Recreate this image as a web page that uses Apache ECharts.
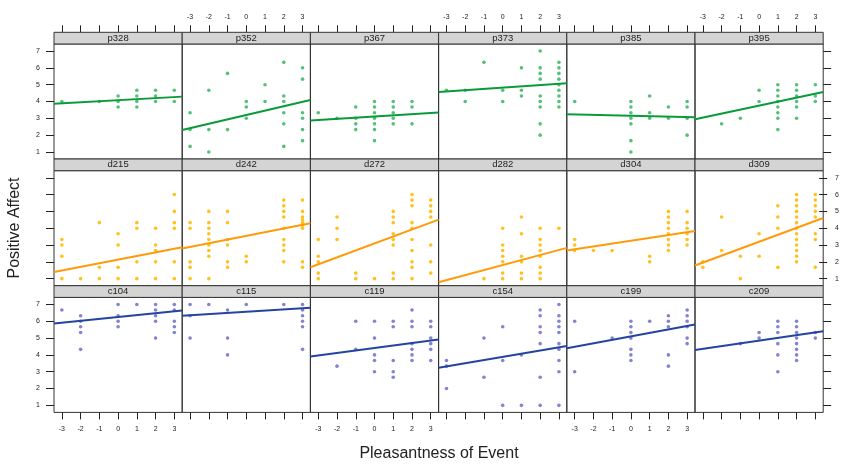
<!DOCTYPE html>
<html><head><meta charset="utf-8">
<script src="https://cdn.jsdelivr.net/npm/echarts@6/dist/echarts.min.js"></script>
<style>html,body{margin:0;padding:0;background:#fff}#c{width:842px;height:464px}</style>
</head><body><div id="c"></div><script>
// x categories of each column of points: -3..3
const xValues = [-3, -2, -1, 0, 1, 2, 3];
const yTickValues = [1, 2, 3, 4, 5, 6, 7];
const panelNames = ['p328','p352','p367','p373','p385','p395',
                    'd215','d242','d272','d282','d304','d309',
                    'c104','c115','c119','c154','c199','c209'];
// each panel: list per x value (-3..3) of Positive Affect values
const p328 = [[4],[],[4],[4.33,4,3.67],[4.67,4.33,4,3.67],[4.67,4.33,4],[4.67,4]];
const p352 = [[3.33,2.33,1.33],[4.67,2.33,1],[5.67,2.33],[4,3.67,3],[5,4],[6.33,4.33,4,3.33,2.67,1.33],[6,5.33,3.33,3,2.33,1.67]];
const p367 = [[3.33],[3],[3.67,3,2.67,2.33],[4,3.67,3.33,3,2.67,2.33,1.67],[4,3.67,3.33,3,2.67],[4,3.67,2.67],[]];
const p373 = [[4.67],[4.67,4],[6.33],[4.67,4],[6,4.67,4.33],[7,6,5.67,5.33,4.33,4,3.67,2.67,2],[6.33,6,5.67,5.33,5,4.67,4.33,4,3.67]];
const p385 = [[4],[],[],[4,3.67,3.33,3,2.67,1.67,1],[4.33,3.33,3],[3.67,3],[4,3.67,3,2]];
const p395 = [[],[2.67],[3],[4.67,4],[5,4.67,4.33,4,3.67,3.33,3,2.33],[5,4.67,4.33,4,3.67,3],[5,4.33,4]];
const d215 = [[3.33,3,2.33,1],[1],[4.33,1.67,1],[3.67,3,1.67,1],[4.33,4,2,1],[4,3,2.67,2,1],[6,5,4.33,4,2,1]];
const d242 = [[4.33,4,2,1.67,1],[5,4.33,4,3.67,3.33,3,2.67,2.33,1],[5,4.33,3.33,3,2,1.67],[2.33,2],[],[5.67,5.33,5,4.67,4,3.33,3,2.67,2],[5.67,5,4.67,4.5,4.33,4.17,4,2,1.67]];
const d272 = [[3.33,2.33,2,1.33,1],[4.67,4,3.33],[1.33,1],[1],[5,4.67,4.33,3.67,3.33,3,1.33,1],[6,5.67,5.33,4.33,4,3.33,2.67,2,1.67,1],[5.67,5.33,5,4.67,3,2,1.33]];
const d282 = [[],[],[1],[4,3,2.67,2.33,2,1.33,1],[4.67,3.67,2.33,2,1.33,1],[4,3.33,3,2.67,2.33,1.67,1.33,1],[4]];
const d304 = [[3.33,3,2.67],[2.67],[2.67],[],[2.33,2],[5,4.67,4.33,4,3.67,3.33,3,2.67],[5,4.33,4,3.67,3.33,3]];
const d309 = [[2,1.67],[4.67,2.67],[2.33,1],[3.67,2.33],[5.33,4.67,4,1.67],[6,5.67,5.33,5,4.67,4.33,4,3.67,3.33,3,2.67,2.33,2],[6,5.67,5.33,5,4.67,3.67,3.33,1.67]];
const c104 = [[6.67],[6.33,6,5.67,5.33,4.33],[],[7,6.33,6,5.67],[7],[7,6.67,6.33,6,5],[7,6.67,6,5.67,5.33]];
const c115 = [[7,6.33,5],[7],[6.67,5,4],[7],[],[7],[7,6.67,6.33,6,5.67,4.33]];
const c119 = [[],[3.33],[6,4.33],[6,5,4,3.67,3],[6,5.67,3.67,3,2.67],[6.67,6,5.67,4.67,4.33,4,3.67],[6,5.67,5,4.67,4.33,3.67]];
const c154 = [[3.67,3.33,2],[],[5,2.67],[5.67,3.67,1],[4,1],[6.67,6.33,5.67,5.33,4.67,2.67,1],[7,6.33,6,5.67,5.33,4.67,4.33,3.67,3,1]];
const c199 = [[6,3],[],[5],[6,5.67,5.33,5,4.33,4,3.67],[6],[6.33,6,5.67,4,3.33],[6.67,6.33,6,5.67,5,4.67]];
const c209 = [[],[],[4.67],[5.33,5],[6,5.67,5.33,4.67,4,3],[6,5.67,5.33,5,4.67,4.33,4,3.67],[5.33,5]];
const panelData = [p328,p352,p367,p373,p385,p395,d215,d242,d272,d282,d304,d309,c104,c115,c119,c154,c199,c209];
// regression line values at the left and right panel edges
const lineLeft  = [3.86,2.30,2.87,4.56,3.24,2.95, 1.40,2.79,1.68,0.78,2.67,1.78, 5.87,6.33,3.90,3.23,4.39,4.29];
const lineRight = [4.29,4.09,3.34,5.09,3.07,4.56, 2.87,4.29,4.51,2.83,3.83,4.61, 6.64,6.80,4.91,4.53,5.81,5.40];

const pointColors = ['#55c07a','#ffc11e','#8383d0'];
const lineColors = ['#0b9a3a','#ff9a0a','#2444a0'];

const LEFT0 = 54, PW = 128.2, PH = 115, SH = 11.7, ROWTOP = [44, 170.7, 297.4];
const XMIN = -3.42, XMAX = 3.42, YMIN = 0.58, YMAX = 7.42;
const FONT = '"Liberation Sans", Arial, sans-serif';

const grid = [], xAxis = [], yAxis = [], series = [], graphic = [];
for (let i = 0; i < 18; i++) {
  const r = Math.floor(i / 6), c = i % 6;
  const left = LEFT0 + c * PW, top = ROWTOP[r];
  grid.push({left: left, top: top, width: PW, height: PH, show: true, borderColor: '#333', borderWidth: 1, backgroundColor: 'transparent'});
  xAxis.push({
    gridIndex: i, type: 'value', min: XMIN, max: XMAX,
    position: r === 0 ? 'top' : 'bottom', offset: r === 0 ? SH : 0,
    axisLine: {show: false}, splitLine: {show: false},
    axisTick: {show: r !== 1, customValues: xValues, length: 7, inside: false, lineStyle: {color: '#222', width: 1}},
    axisLabel: {show: (r === 0 && c % 2 === 1) || (r === 2 && c % 2 === 0), customValues: xValues,
      fontSize: 7, margin: r === 0 ? 12 : 13, color: '#222', fontFamily: FONT}
  });
  yAxis.push({
    gridIndex: i, type: 'value', min: YMIN, max: YMAX,
    axisLine: {show: false}, splitLine: {show: false}, axisTick: {show: false}, axisLabel: {show: false}
  });
  const pts = [];
  panelData[i].forEach((ys, k) => ys.forEach(y => pts.push([xValues[k], y])));
  series.push({type: 'scatter', xAxisIndex: i, yAxisIndex: i, data: pts, symbolSize: 3.6,
    itemStyle: {color: pointColors[r], opacity: 1}, z: 2, silent: true});
  series.push({type: 'line', xAxisIndex: i, yAxisIndex: i, data: [[XMIN, lineLeft[i]], [XMAX, lineRight[i]]],
    showSymbol: false, symbol: 'none', lineStyle: {color: lineColors[r], width: 2}, z: 3, silent: true});
  graphic.push({type: 'rect', shape: {x: left, y: top - SH, width: PW, height: SH},
    style: {fill: '#d4d4d4', stroke: '#333', lineWidth: 1}, z: 10});
  graphic.push({type: 'text', x: left + PW / 2, y: top - SH / 2,
    style: {text: panelNames[i], fontSize: 9.5, fontFamily: FONT, fill: '#222', align: 'center', verticalAlign: 'middle'}, z: 11});
}
// outer y tick axes: one grid per row spanning the values 1..7 exactly
for (let r = 0; r < 3; r++) {
  const gi = grid.length;
  grid.push({left: LEFT0, width: 6 * PW, top: ROWTOP[r] + PH * (YMAX - 7) / (YMAX - YMIN),
    height: PH * 6 / (YMAX - YMIN), show: false});
  xAxis.push({gridIndex: gi, type: 'value', min: 0, max: 1, show: false});
  [['left', r !== 1, 14], ['right', r === 1, 16]].forEach(([pos, lab, mg]) => {
    yAxis.push({gridIndex: gi, type: 'value', min: 1, max: 7, interval: 1, position: pos,
      axisLine: {show: false}, splitLine: {show: false},
      axisTick: {show: true, length: 8, inside: false, lineStyle: {color: '#222', width: 1}},
      axisLabel: {show: lab, fontSize: 7, margin: mg, color: '#222', fontFamily: FONT}});
  });
}
graphic.push({type: 'text', x: 15, y: 228, rotation: Math.PI / 2,
  style: {text: 'Positive Affect', fontSize: 16, fontFamily: FONT, fill: '#222', align: 'center', verticalAlign: 'middle'}});
graphic.push({type: 'text', x: 439, y: 454,
  style: {text: 'Pleasantness of Event', fontSize: 16, fontFamily: FONT, fill: '#222', align: 'center', verticalAlign: 'middle'}});

const chart = echarts.init(document.getElementById('c'));
chart.setOption({animation: false, backgroundColor: '#fff', grid, xAxis, yAxis, series, graphic});
</script></body></html>
